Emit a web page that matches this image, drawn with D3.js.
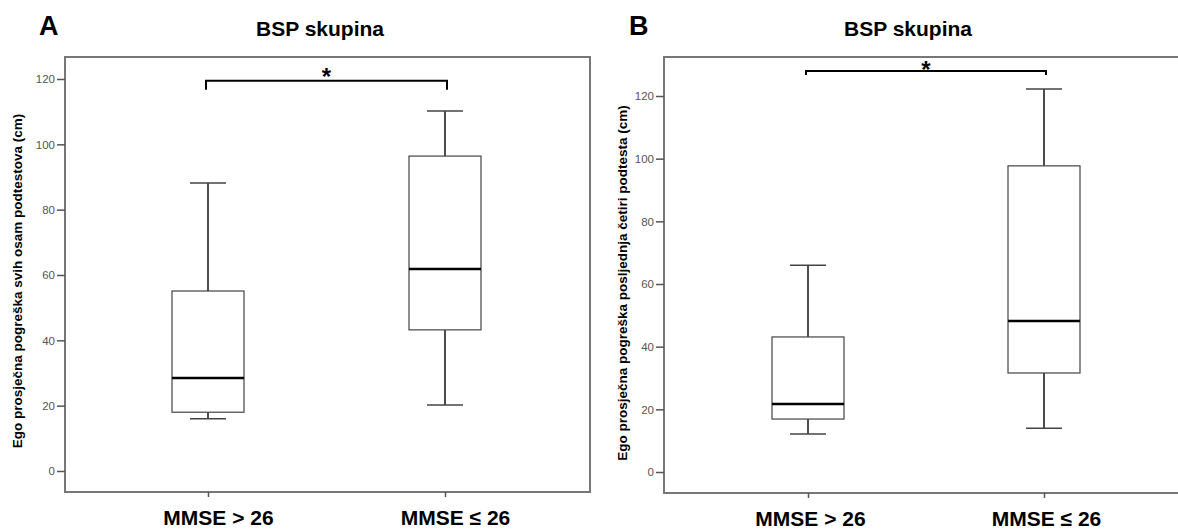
<!DOCTYPE html>
<html>
<head>
<meta charset="utf-8">
<script src="https://cdn.jsdelivr.net/npm/d3@7"></script>
<style>
  html, body { margin: 0; padding: 0; background: #fff; }
  svg { display: block; font-family: "Liberation Sans", Arial, sans-serif; }
</style>
</head>
<body>
<svg id="chart" width="1178" height="529"></svg>
<script>
// ---- Data ----
const categories = ["MMSE > 26", "MMSE \u2264 26"];
const yTicks = [0, 20, 40, 60, 80, 100, 120];

// Panel A: Ego prosječna pogreška svih osam podtestova (cm)
const aMin    = [16.0, 20.2];
const aQ1     = [18.0, 43.2];
const aMedian = [28.5, 61.8];
const aQ3     = [55.1, 96.4];
const aMax    = [88.2, 110.2];

// Panel B: Ego prosječna pogreška posljednja četiri podtesta (cm)
const bMin    = [12.1, 14.0];
const bQ1     = [16.9, 31.6];
const bMedian = [21.7, 48.2];
const bQ3     = [43.1, 97.7];
const bMax    = [66.0, 122.2];

const titles = ["BSP skupina", "BSP skupina"];
const panelLetters = ["A", "B"];
const yLabels = [
  "Ego prosje\u010dna pogre\u0161ka svih osam podtestova (cm)",
  "Ego prosje\u010dna pogre\u0161ka posljednja \u010detiri podtesta (cm)"
];
const significance = ["*", "*"];
const bracketLevel = [119.5, 128];

// ---- Drawing ----
const svg = d3.select("#chart");

function drawPanel(p) {
  const g = svg.append("g");
  const y = d3.scaleLinear().domain([0, 120]).range([p.y0, p.y120]);
  const x = d3.scalePoint().domain(categories).range([p.xA, p.xB]);

  // frame
  g.append("rect")
    .attr("x", p.left).attr("y", p.top)
    .attr("width", p.right - p.left).attr("height", p.bottom - p.top)
    .attr("fill", "none").attr("stroke", "#777").attr("stroke-width", 2);

  // y axis
  const yAxis = g.append("g")
    .attr("transform", `translate(${p.left},0)`)
    .call(d3.axisLeft(y).tickValues(yTicks).tickSize(8).tickPadding(2));
  yAxis.select(".domain").remove();
  yAxis.selectAll(".tick line").attr("stroke", "#555").attr("stroke-width", 1.5);
  yAxis.selectAll(".tick text")
    .attr("fill", "#555").style("font-size", "11.5px")
    .style("font-family", "'Liberation Sans', Arial, sans-serif");

  // x axis
  const xAxis = g.append("g")
    .attr("transform", `translate(0,${p.bottom})`)
    .call(d3.axisBottom(x).tickSize(5).tickPadding(13));
  xAxis.select(".domain").remove();
  xAxis.selectAll(".tick line").attr("stroke", "#555").attr("stroke-width", 1.5);
  xAxis.selectAll(".tick text")
    .attr("fill", "#000").attr("dx", p.labelDx)
    .style("font-size", "21px").style("font-weight", "bold")
    .style("font-family", "'Liberation Sans', Arial, sans-serif");

  const hw = 36, cw = 18;
  const data = categories.map((c, i) => ({
    c, min: p.min[i], q1: p.q1[i], med: p.med[i], q3: p.q3[i], max: p.max[i]
  }));

  const bx = g.selectAll(".box").data(data).enter().append("g");
  // whiskers
  bx.append("line")
    .attr("x1", d => x(d.c)).attr("x2", d => x(d.c))
    .attr("y1", d => y(d.q3)).attr("y2", d => y(d.max))
    .attr("stroke", "#111").attr("stroke-width", 1.5);
  bx.append("line")
    .attr("x1", d => x(d.c)).attr("x2", d => x(d.c))
    .attr("y1", d => y(d.q1)).attr("y2", d => y(d.min))
    .attr("stroke", "#111").attr("stroke-width", 1.5);
  // caps
  bx.append("line")
    .attr("x1", d => x(d.c) - cw).attr("x2", d => x(d.c) + cw)
    .attr("y1", d => y(d.max)).attr("y2", d => y(d.max))
    .attr("stroke", "#444").attr("stroke-width", 1.5);
  bx.append("line")
    .attr("x1", d => x(d.c) - cw).attr("x2", d => x(d.c) + cw)
    .attr("y1", d => y(d.min)).attr("y2", d => y(d.min))
    .attr("stroke", "#444").attr("stroke-width", 1.5);
  // box
  bx.append("rect")
    .attr("x", d => x(d.c) - hw).attr("width", hw * 2)
    .attr("y", d => y(d.q3)).attr("height", d => y(d.q1) - y(d.q3))
    .attr("fill", "#fff").attr("stroke", "#444").attr("stroke-width", 1.2);
  // median
  bx.append("line")
    .attr("x1", d => x(d.c) - hw).attr("x2", d => x(d.c) + hw)
    .attr("y1", d => y(d.med)).attr("y2", d => y(d.med))
    .attr("stroke", "#000").attr("stroke-width", 2.5);

  // significance bracket
  const by = y(p.bracket);
  g.append("path")
    .attr("d", `M${x(categories[0]) - 2},${by + p.drop} V${by} H${x(categories[1]) + 2} V${by + p.drop}`)
    .attr("fill", "none").attr("stroke", "#000").attr("stroke-width", 2);
  g.append("text")
    .attr("x", (x(categories[0]) + x(categories[1])) / 2)
    .attr("y", by + p.starDy)
    .attr("text-anchor", "middle")
    .style("font-size", "24px").style("font-weight", "bold")
    .text(p.sig);

  // title
  g.append("text")
    .attr("x", p.titleX).attr("y", 36)
    .attr("text-anchor", "middle")
    .style("font-size", "21px").style("font-weight", "bold")
    .text(p.title);
  // panel letter
  g.append("text")
    .attr("x", p.letterX).attr("y", 35)
    .style("font-size", "27px").style("font-weight", "bold")
    .text(p.letter);
  // y label
  g.append("text")
    .attr("transform", `translate(${p.ylabX},${p.ylabY}) rotate(-90)`)
    .attr("text-anchor", "middle")
    .style("font-size", "13.5px").style("font-weight", "bold")
    .text(p.ylab);
}

drawPanel({
  left: 65, right: 590, top: 57, bottom: 492,
  y0: 471, y120: 79, xA: 208, xB: 445, labelDx: 10,
  min: aMin, q1: aQ1, med: aMedian, q3: aQ3, max: aMax,
  bracket: bracketLevel[0], drop: 9, starDy: 4, sig: significance[0],
  title: titles[0], titleX: 320, letter: panelLetters[0], letterX: 39,
  ylab: yLabels[0], ylabX: 22, ylabY: 281
});
drawPanel({
  left: 664, right: 1182, top: 57, bottom: 493,
  y0: 472, y120: 96, xA: 808, xB: 1044, labelDx: 2,
  min: bMin, q1: bQ1, med: bMedian, q3: bQ3, max: bMax,
  bracket: bracketLevel[1], drop: 4, starDy: 7, sig: significance[1],
  title: titles[1], titleX: 908, letter: panelLetters[1], letterX: 629,
  ylab: yLabels[1], ylabX: 627, ylabY: 283
});
</script>
</body>
</html>
